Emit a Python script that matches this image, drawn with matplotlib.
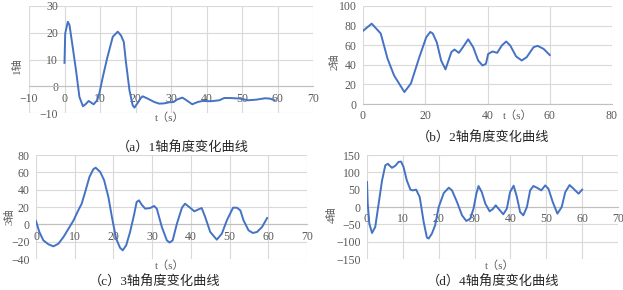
import matplotlib
matplotlib.use('Agg')
import matplotlib.pyplot as plt

plt.rcParams['font.family'] = ['Liberation Serif', 'Noto Sans CJK SC', 'DejaVu Sans']

# Data
t1 = [0, 0.2, 0.94, 1.4, 2.3, 3.3, 4.2, 5.2, 6.1, 6.8, 7.5, 8.2, 9.2, 9.8, 10.8, 12, 13.6, 15, 15.9,
      16.7, 17.3, 18.3, 19.2, 19.7, 20.6, 21.4, 22, 23.4, 25.3, 26.7, 28.1, 29.5, 30.7, 31.8, 33.2,
      34.1, 36, 37.5, 38.9, 41.2, 43.6, 45, 46.6, 49.4, 51.7, 54.1, 56.4, 57.8, 59.2]
y1 = [8.75, 19.75, 24.1, 22.9, 14.75, 5.4, -4, -7.5, -6.5, -5.5, -6.1, -6.75, -5.25, -2.75, 3.5, 10.4,
      18.5, 20.4, 19, 16.6, 9.1, -1.5, -7.1, -8, -6.25, -4.6, -3.75, -4.6, -5.9, -6.5, -6.4, -6, -5.9,
      -4.9, -4.25, -5, -6.75, -5.9, -5.5, -5.6, -5.25, -4.4, -4.4, -4.6, -5.25, -5, -4.5, -4.6, -5.25]

t2 = [0, 2.8, 5.7, 7.9, 10, 13.3, 15.4, 18.1, 20.3, 21.6, 22.4, 23.7, 25.1, 26.5, 28.4, 29.4, 30.8,
      32.1, 33.8, 35.4, 37, 38.4, 39.5, 40.2, 41.6, 43.1, 44.6, 46, 47.3, 49.2, 51, 52.6, 54.8, 56.1,
      58, 60]
y2 = [74.6, 82, 71.9, 46.1, 29, 12.2, 21, 47.8, 68, 73.5, 72, 63, 44.4, 35.3, 53, 55.6, 52.2, 58, 66,
      58, 44.4, 39.3, 41, 51, 53.6, 52.2, 59.7, 63.8, 59.7, 48.5, 44.4, 47.8, 58, 59.3, 56.3, 50]

t3 = [0, 0.86, 1.9, 3.2, 4.5, 5.8, 7.1, 8.4, 9.7, 10.9, 11.8, 12.7, 13.8, 14.8, 15.4, 16.6, 17.6,
      18.7, 19.6, 20.7, 21.7, 22.4, 23.3, 24.3, 25.3, 26, 26.6, 27.3, 28.2, 29.5, 30.5, 31.2, 32.5,
      33.8, 34.5, 35.3, 36.4, 37.7, 38.5, 39.8, 40.9, 42, 42.8, 43.7, 45, 46.7, 48, 49.3, 50.9, 51.9,
      52.8, 53.6, 54.9, 56, 57.1, 58.4, 59.7]
y3 = [3.8, -8.8, -18.5, -23, -25.4, -22.3, -14.6, -5, 4.6, 16, 23.8, 37.3, 54.6, 63.5, 65.4, 60.4,
      50.8, 31.5, 8.5, -16.5, -27, -30, -24.2, -8.8, 10.4, 25.8, 27.7, 22.7, 18.1, 18.8, 21.2, 18.1,
      -3, -18.5, -21, -18.5, 0.8, 19.2, 23.8, 19.2, 15, 17.3, 18.8, 8.5, -8.8, -17.7, -10.8, 4.6, 19.2,
      19.2, 16, 4.6, -6.9, -10, -8.8, -3, 7.3]

t4 = [0, 0.2, 0.65, 1.4, 2.3, 3.25, 4.2, 5.1, 5.8, 6.96, 7.9, 8.8, 9.5, 10.2, 11.1, 12.1, 12.8, 13.7,
      14.7, 15.8, 16.7, 17.2, 18.1, 19, 20, 21.4, 22.8, 23.7, 25.1, 26.5, 27.7, 28.8, 29.7, 30.5, 31.1,
      32, 33, 34.2, 35.1, 35.9, 36.9, 38, 39, 39.9, 40.9, 41.8, 42.7, 43.6, 44.6, 45.5, 46.4, 47.4,
      48.6, 49.7, 50.6, 51.8, 53.1, 54.3, 55.3, 56.5, 57.6, 59, 60]
y4 = [72, 9.6, -48, -75, -57.5, 9.6, 76.7, 120, 124.6, 113, 119, 130, 131, 115, 76.7, 50, 48, 50,
      28.8, -43, -88, -91, -76.7, -52.7, 0, 40.3, 55.6, 48, 14.4, -24, -40.3, -33.6, -4.8, 38.4, 60.5,
      43.2, 9.6, -12.5, -5.8, 4.8, -7.7, -21, -4.8, 43.2, 61.4, 28.8, -14.4, -24, 0, 48, 60.5, 55.6,
      48, 62.3, 52.7, 14.4, -19.2, 0, 43.2, 63.3, 52.7, 38.4, 50]

xticks = [[-10, 0, 10, 20, 30, 40, 50, 60, 70], [0, 20, 40, 60, 80],
          [0, 10, 20, 30, 40, 50, 60, 70], [0, 10, 20, 30, 40, 50, 60, 70]]
yticks = [[-10, 0, 10, 20, 30], [0, 20, 40, 60, 80, 100],
          [-40, -20, 0, 20, 40, 60, 80], [-150, -100, -50, 0, 50, 100, 150]]
ylabels = ['1轴', '2轴', '3轴', '4轴']
captions = ['（a）1轴角度变化曲线', '（b）2轴角度变化曲线', '（c）3轴角度变化曲线', '（d）4轴角度变化曲线']

W, H = 623, 290
fig = plt.figure(figsize=(W / 100, H / 100), dpi=100)

def box(l, t, r, b):
    return [l / W, 1 - b / H, (r - l) / W, (b - t) / H]

def px(x, y):
    return x / W, 1 - y / H

# plot areas in pixels: left, top, right, bottom
areas = [(29, 6, 313, 113), (363, 6, 612, 104), (36, 155, 307, 259), (367, 155, 618, 259)]
ylab_pos = [(17, 66), (335, 62), (10, 217), (332, 215)]
xlab_pos = [(170, 118), (518, 116), (170, 266), (500, 266)]
cap_pos = [(183, 148), (483, 138), (155, 282), (493, 282)]

series = [(t1, y1), (t2, y2), (t3, y3), (t4, y4)]
grid_c = '#D9D9D9'
txt_c = '#595959'

for i in range(4):
    ax = fig.add_axes(box(*areas[i]))
    t, y = series[i]
    ax.plot(t, y, color='#4472C4', lw=1.4, solid_joinstyle='round', zorder=3)
    ax.set_xlim(xticks[i][0], xticks[i][-1])
    ax.set_ylim(yticks[i][0], yticks[i][-1])
    ax.set_xticks(xticks[i])
    ax.set_yticks(yticks[i])
    ax.grid(True, color=grid_c, lw=0.8)
    ax.set_axisbelow(True)
    for s in ['top', 'right', 'left']:
        ax.spines[s].set_visible(False)
    ax.spines['bottom'].set_position(('data', 0))
    ax.spines['bottom'].set_color('#BFBFBF')
    ax.spines['bottom'].set_linewidth(0.8)
    ax.spines['left'].set_position(('data', 0))
    ax.tick_params(length=0, labelsize=8.5, labelcolor=txt_c, pad=4.5)
    fig.text(*px(*ylab_pos[i]), ylabels[i], rotation=90, fontsize=8, color=txt_c,
             ha='center', va='center')
    fig.text(*px(*xlab_pos[i]), 't（s）', fontsize=8, color=txt_c, ha='center', va='center')
    fig.text(*px(*cap_pos[i]), captions[i], fontsize=9.5, color='#262626', ha='center', va='center')

plt.savefig('out.png', dpi=100)
